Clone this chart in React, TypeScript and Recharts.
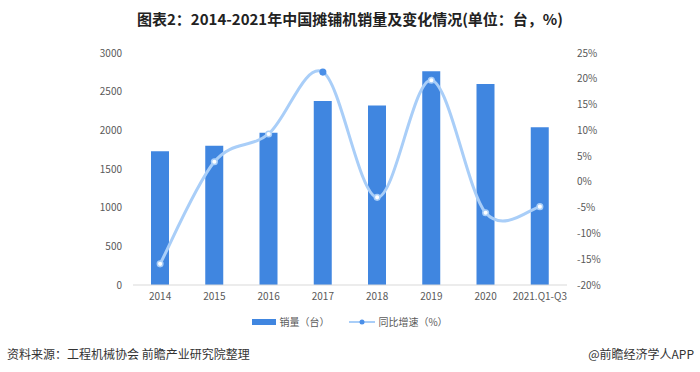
import { ComposedChart, Bar, Line, XAxis, YAxis } from 'recharts'

const categories = ['2014', '2015', '2016', '2017', '2018', '2019', '2020', '2021.Q1-Q3']
const sales = [1730, 1800, 1970, 2380, 2320, 2765, 2600, 2040]
const growth = [-15.9, 3.9, 9.3, 21.3, -3.0, 19.7, -6.0, -4.8]
const leftTicks = [0, 500, 1000, 1500, 2000, 2500, 3000]
const rightTicks = [-20, -15, -10, -5, 0, 5, 10, 15, 20, 25]

const FONT = '"Noto Sans CJK SC", "Noto Sans", sans-serif'
const BAR = '#4086E0'
const LINE = '#A9CEF8'

const data = categories.map((name, i) => ({ name, sales: sales[i], growth: growth[i] }))

// Catmull-Rom 平滑曲线，比 natural 的过冲小一些
function catmullRom(context: any) {
  let pts: [number, number][] = []
  return {
    areaStart() {},
    areaEnd() {},
    lineStart() {
      pts = []
    },
    lineEnd() {
      if (!pts.length) return
      context.moveTo(pts[0][0], pts[0][1])
      for (let i = 0; i < pts.length - 1; i++) {
        const p0 = pts[i - 1] || pts[i]
        const p1 = pts[i]
        const p2 = pts[i + 1]
        const p3 = pts[i + 2] || p2
        context.bezierCurveTo(
          p1[0] + (p2[0] - p0[0]) / 6,
          p1[1] + (p2[1] - p0[1]) / 6,
          p2[0] - (p3[0] - p1[0]) / 6,
          p2[1] - (p3[1] - p1[1]) / 6,
          p2[0],
          p2[1]
        )
      }
    },
    point(x: number, y: number) {
      pts.push([+x, +y])
    },
  }
}

function GrowthDot(props: any) {
  const { cx, cy, index } = props
  if (cx == null || cy == null) return null
  // 2017 点在原图里是实心的
  const filled = index === 3
  return (
    <circle
      key={`dot-${index}`}
      cx={cx}
      cy={cy}
      r={2.8}
      fill={filled ? '#4A8FE8' : '#fff'}
      stroke={filled ? '#4A8FE8' : LINE}
      strokeWidth={1.5}
    />
  )
}

export default function App() {
  return (
    <div
      style={{
        position: 'absolute',
        left: 0,
        top: 0,
        width: 700,
        height: 372,
        background: '#fff',
        fontFamily: FONT,
        overflow: 'hidden',
      }}
    >
      <div
        style={{
          position: 'absolute',
          top: 8,
          left: 0,
          width: 700,
          textAlign: 'center',
          fontSize: 15,
          fontWeight: 700,
          color: '#222',
          lineHeight: '22px',
        }}
      >
        图表2：2014-2021年中国摊铺机销量及变化情况(单位：台，%)
      </div>

      <ComposedChart
        width={700}
        height={372}
        data={data}
        margin={{ top: 53, right: 0, bottom: 57, left: 0 }}
        style={{ position: 'absolute', left: 0, top: 0 }}
      >
        <XAxis
          dataKey="name"
          axisLine={{ stroke: '#D9D9D9' }}
          tickLine={false}
          tick={{ fill: '#595959', fontSize: 10, fontFamily: FONT }}
          interval={0}
          height={30}
        />
        <YAxis
          yAxisId="left"
          orientation="left"
          width={133}
          domain={[0, 3000]}
          ticks={leftTicks}
          interval={0}
          axisLine={false}
          tickLine={false}
          tickMargin={5}
          tick={{ fill: '#595959', fontSize: 10, fontFamily: FONT }}
        />
        <YAxis
          yAxisId="right"
          orientation="right"
          width={133}
          domain={[-20, 25]}
          ticks={rightTicks}
          interval={0}
          axisLine={false}
          tickLine={false}
          tickMargin={4}
          tickFormatter={(v: number) => `${v}%`}
          tick={{ fill: '#595959', fontSize: 10, fontFamily: FONT, textAnchor: 'start' }}
        />
        <Bar yAxisId="left" dataKey="sales" fill={BAR} barSize={18} isAnimationActive={false} />
        <Line
          yAxisId="right"
          dataKey="growth"
          type={catmullRom as any}
          stroke={LINE}
          strokeWidth={3}
          dot={GrowthDot}
          activeDot={false}
          isAnimationActive={false}
        />
      </ComposedChart>

      {/* 图例 */}
      <div
        style={{
          position: 'absolute',
          top: 314,
          left: 0,
          width: 700,
          display: 'flex',
          justifyContent: 'center',
          alignItems: 'center',
          fontSize: 10,
          color: '#595959',
        }}
      >
        <svg width={24} height={8} style={{ marginRight: 3 }}>
          <rect x={0} y={1} width={24} height={6} fill={BAR} />
        </svg>
        <span>销量（台）</span>
        <svg width={26} height={10} style={{ marginLeft: 20, marginRight: 3 }}>
          <line x1={0} y1={5} x2={26} y2={5} stroke={LINE} strokeWidth={2} />
          <circle cx={13} cy={5} r={2.5} fill="#4A8FE8" />
        </svg>
        <span>同比增速（%）</span>
      </div>

      <div
        style={{
          position: 'absolute',
          top: 345,
          left: 7,
          fontSize: 12,
          color: '#333',
        }}
      >
        资料来源：工程机械协会 前瞻产业研究院整理
      </div>
      <div
        style={{
          position: 'absolute',
          top: 345,
          right: 6,
          fontSize: 12,
          color: '#333',
        }}
      >
        @前瞻经济学人APP
      </div>
    </div>
  )
}
